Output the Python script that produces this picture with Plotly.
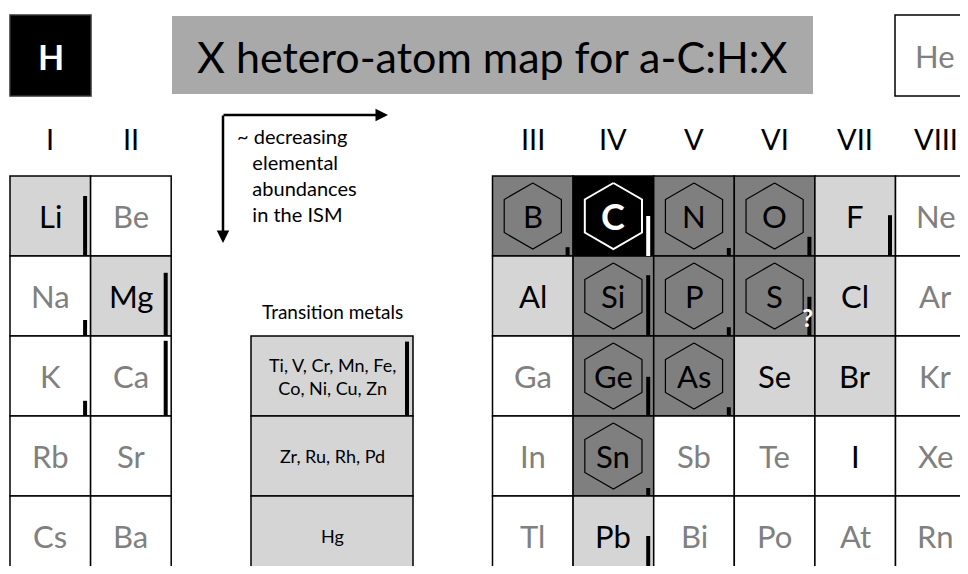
import plotly.graph_objects as go

# element grid, kind of cell and abundance bar (fraction of the cell height)
left_symbols = [["Li", "Be"], ["Na", "Mg"], ["K", "Ca"], ["Rb", "Sr"], ["Cs", "Ba"]]
left_kinds = [["light", "white"], ["white", "light"], ["white", "white"],
              ["white", "white"], ["white", "white"]]

right_groups = ["III", "IV", "V", "VI", "VII", "VIII"]
right_symbols = [["B", "C", "N", "O", "F", "Ne"],
                 ["Al", "Si", "P", "S", "Cl", "Ar"],
                 ["Ga", "Ge", "As", "Se", "Br", "Kr"],
                 ["In", "Sn", "Sb", "Te", "I", "Xe"],
                 ["Tl", "Pb", "Bi", "Po", "At", "Rn"]]
right_kinds = [["dark", "carbon", "dark", "dark", "light", "white"],
               ["light", "dark", "dark", "dark", "light", "white"],
               ["white", "dark", "dark", "light", "light", "white"],
               ["white", "dark", "white", "white", "whiteb", "white"],
               ["white", "light", "white", "white", "white", "white"]]

transition_rows = ["Ti, V, Cr, Mn, Fe,<br>Co, Ni, Cu, Zn", "Zr, Ru, Rh, Pd", "Hg"]
transition_bar = [0.93, 0, 0]

abundance = {"Li": 0.75, "Mg": 0.79, "Na": 0.2, "K": 0.19, "Ca": 0.94,
             "B": 0.11, "C": 0.5, "N": 0.1, "O": 0.24, "F": 0.51,
             "Si": 0.76, "P": 0.11, "S": 0.49, "Ar": 0.25,
             "Ge": 0.49, "As": 0.11, "Kr": 0.25, "Sn": 0.1, "Pb": 0.5}

FONT = "Lato"
CW, CH = 80.6, 80
TOP = 176
fill = {"white": "white", "whiteb": "white", "light": "#d5d5d5",
        "dark": "#7f7f7f", "carbon": "black"}
tcol = {"white": "#808080", "whiteb": "black", "light": "black",
        "dark": "black", "carbon": "white"}

fig = go.Figure()
shapes, annos = [], []
bars_x, bars_base, bars_h = [], [], []
cbar_x, cbar_base, cbar_h = [], [], []
hex_x, hex_y, chex_x, chex_y = [], [], [], []

R = 33
hex_dx = [0, -R * 0.866, -R * 0.866, 0, R * 0.866, R * 0.866, 0]
hex_dy = [-R, -R / 2, R / 2, R, R / 2, -R / 2, -R]


def cell(x0, y0, sym, kind):
    x1, y1 = x0 + CW, y0 + CH
    cx, cy = (x0 + x1) / 2, (y0 + y1) / 2
    shapes.append(dict(type="rect", x0=x0, x1=x1, y0=y0, y1=y1, layer="below",
                       fillcolor=fill[kind], line=dict(color="black", width=1.5)))
    if kind == "dark":
        hex_x.extend([cx + d for d in hex_dx] + [None])
        hex_y.extend([cy + d for d in hex_dy] + [None])
    if kind == "carbon":
        chex_x.extend([cx + d for d in hex_dx] + [None])
        chex_y.extend([cy + d for d in hex_dy] + [None])
        annos.append(dict(x=cx, y=cy, text="<b>%s</b>" % sym, showarrow=False,
                          font=dict(family=FONT, size=36, color="white")))
    else:
        annos.append(dict(x=cx, y=cy, text=sym, showarrow=False,
                          font=dict(family=FONT, size=31, color=tcol[kind])))
    if sym in abundance:
        if kind == "carbon":
            cbar_x.append(x1 - 5.5); cbar_base.append(y1); cbar_h.append(-abundance[sym] * CH)
        else:
            bars_x.append(x1 - 5.5); bars_base.append(y1); bars_h.append(-abundance[sym] * CH)


for r, row in enumerate(left_symbols):
    for c, sym in enumerate(row):
        cell(10 + c * CW, TOP + r * CH, sym, left_kinds[r][c])
for r, row in enumerate(right_symbols):
    for c, sym in enumerate(row):
        cell(492.5 + c * CW, TOP + r * CH, sym, right_kinds[r][c])

# transition metals column
for r, txt in enumerate(transition_rows):
    y0 = 336 + r * CH
    shapes.append(dict(type="rect", x0=251, x1=413, y0=y0, y1=y0 + CH, layer="below",
                       fillcolor=fill["light"], line=dict(color="black", width=1.5)))
    annos.append(dict(x=332, y=y0 + CH / 2, text=txt, showarrow=False,
                      font=dict(family=FONT, size=18, color="black")))
    if transition_bar[r]:
        bars_x.append(407); bars_base.append(y0 + CH); bars_h.append(-transition_bar[r] * CH)
annos.append(dict(x=332, y=311, text="Transition metals", showarrow=False,
                  font=dict(family=FONT, size=19, color="black")))

# group numerals
for c, g in enumerate(["I", "II"]):
    annos.append(dict(x=10 + CW * (c + 0.5), y=138, text=g, showarrow=False,
                      font=dict(family=FONT, size=29, color="black")))
for c, g in enumerate(right_groups):
    annos.append(dict(x=492.5 + CW * (c + 0.5), y=138, text=g, showarrow=False,
                      font=dict(family=FONT, size=29, color="black")))

# header boxes
shapes.append(dict(type="rect", x0=10, x1=91, y0=15, y1=96, fillcolor="black",
                   line=dict(color="#333", width=1.5), layer="below"))
annos.append(dict(x=50.5, y=56, text="<b>H</b>", showarrow=False,
                  font=dict(family=FONT, size=34, color="white")))
shapes.append(dict(type="rect", x0=172, x1=813, y0=16, y1=94, fillcolor="#a9a9a9",
                   line=dict(width=0), layer="below"))
annos.append(dict(x=492, y=56, text="X hetero-atom map for a-C:H:X", showarrow=False,
                  font=dict(family=FONT, size=43, color="black")))
shapes.append(dict(type="rect", x0=895, x1=990, y0=15, y1=96, fillcolor="white",
                   line=dict(color="black", width=1.5), layer="below"))
annos.append(dict(x=935, y=56, text="He", showarrow=False,
                  font=dict(family=FONT, size=31, color="#808080")))

# abundance arrows
annos.append(dict(x=388, y=115, ax=222, ay=115, axref="x", ayref="y", xref="x", yref="y",
                  text="", showarrow=True, arrowhead=2, arrowsize=1, arrowwidth=2.5,
                  arrowcolor="black"))
annos.append(dict(x=223, y=243, ax=223, ay=114, axref="x", ayref="y", xref="x", yref="y",
                  text="", showarrow=True, arrowhead=2, arrowsize=1, arrowwidth=2.5,
                  arrowcolor="black"))
annos.append(dict(x=235, y=122, xanchor="left", yanchor="top", align="left", showarrow=False,
                  text="~ decreasing<br>   elemental<br>   abundances<br>   in the ISM",
                  font=dict(family=FONT, size=20, color="black")))
annos.append(dict(x=807, y=317, text="<b>?</b>", showarrow=False,
                  font=dict(family=FONT, size=24, color="white")))

fig.add_trace(go.Scatter(x=hex_x, y=hex_y, mode="lines", line=dict(color="black", width=1.2),
                         hoverinfo="skip"))
fig.add_trace(go.Scatter(x=chex_x, y=chex_y, mode="lines", line=dict(color="white", width=2),
                         hoverinfo="skip"))
fig.add_trace(go.Bar(x=bars_x, y=bars_h, base=bars_base, width=[4] * len(bars_x),
                     marker=dict(color="black", line=dict(width=0))))
fig.add_trace(go.Bar(x=cbar_x, y=cbar_h, base=cbar_base, width=[4] * len(cbar_x),
                     marker=dict(color="white", line=dict(width=0))))

# the page body adds an 8 px margin: keep the figure inside the window and
# start the ranges at 8 so data units equal page pixels
fig.update_layout(width=952, height=558, margin=dict(l=0, r=0, t=0, b=0),
                  paper_bgcolor="white", plot_bgcolor="white", showlegend=False,
                  barmode="overlay", shapes=shapes, annotations=annos,
                  xaxis=dict(range=[8, 960], visible=False, fixedrange=True),
                  yaxis=dict(range=[566, 8], visible=False, fixedrange=True))
fig.write_html("out.html")
